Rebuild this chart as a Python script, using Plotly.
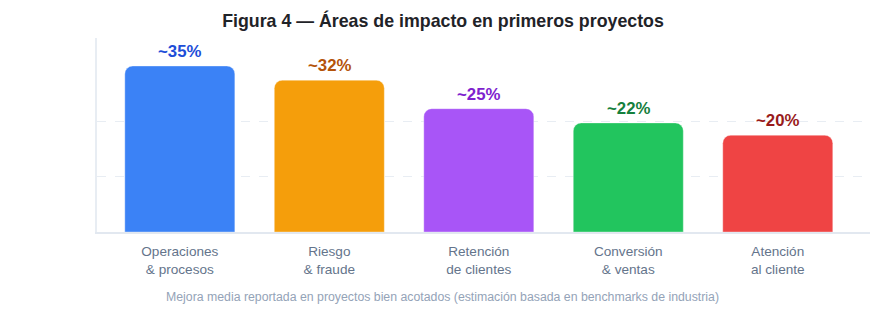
import plotly.graph_objects as go

categories = ["Operaciones<br>& procesos", "Riesgo<br>& fraude", "Retención<br>de clientes",
              "Conversión<br>& ventas", "Atención<br>al cliente"]
values = [35, 32, 26, 23, 20.4]
value_labels = ["~35%", "~32%", "~25%", "~22%", "~20%"]
bar_colors = ["#3b82f6", "#f59e0b", "#a855f7", "#22c55e", "#ef4444"]
label_colors = ["#1d4ed8", "#b45309", "#7e22ce", "#15803d", "#991b1b"]
grid_vals = [11.8, 23.4]

fig = go.Figure()
fig.add_trace(go.Bar(
    x=list(range(len(categories))), y=values,
    marker=dict(color=bar_colors, line=dict(color="rgba(255,255,255,0.35)", width=1),
                cornerradius=8),
    hoverinfo="skip",
))

for i, (v, t, c) in enumerate(zip(values, value_labels, label_colors)):
    fig.add_annotation(x=i, y=v, text=t, showarrow=False, yanchor="bottom", yshift=3,
                       font=dict(family="Arial, Liberation Sans", size=16.8, color=c, weight="bold"))

fig.add_annotation(xref="paper", yref="paper", x=0.447, y=-0.335, yanchor="middle",
                   text="Mejora media reportada en proyectos bien acotados (estimación basada en benchmarks de industria)",
                   showarrow=False, font=dict(family="Arial, Liberation Sans", size=12.3, color="#94a3b8"))

fig.update_layout(
    width=886, height=318,
    margin=dict(l=97, r=16, t=38, b=86),
    paper_bgcolor="white", plot_bgcolor="white",
    bargap=0.264,
    showlegend=False,
    title=dict(text="<b>Figura 4 — Áreas de impacto en primeros proyectos</b>",
               x=0.5, xanchor="center", y=0.935, yanchor="middle",
               font=dict(family="Arial, Liberation Sans", size=17.8, color="#1f2328")),
    xaxis=dict(tickmode="array", tickvals=list(range(len(categories))), ticktext=categories,
               range=[-0.554, 4.617], showline=True, linecolor="#e2e8f0", linewidth=1.5,
               showgrid=False, zeroline=False, ticks="outside", ticklen=6, tickcolor="rgba(0,0,0,0)",
               tickfont=dict(family="Arial, Liberation Sans", size=13.6, color="#64748b")),
    yaxis=dict(range=[0, 40.9], tickmode="array", tickvals=grid_vals, showticklabels=False,
               showgrid=True, gridcolor="#e8edf3", griddash="dash", gridwidth=1,
               showline=True, linecolor="#e8edf3", linewidth=1.5, zeroline=False),
)

fig.write_html("out.html")
